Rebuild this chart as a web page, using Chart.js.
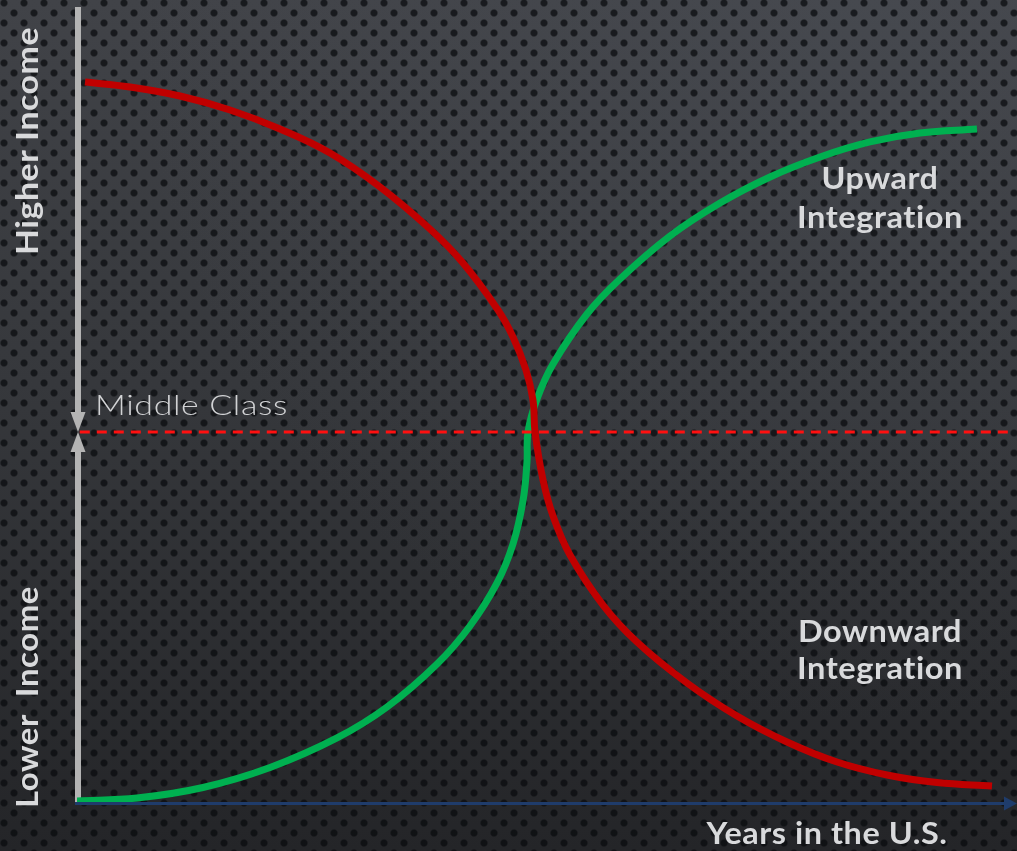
<!DOCTYPE html>
<html>
<head>
<meta charset="utf-8">
<title>Integration</title>
<script src="https://cdn.jsdelivr.net/npm/chart.js@4.4.1/dist/chart.umd.min.js"></script>
<style>
  html, body {
    margin: 0;
    padding: 0;
    width: 1017px;
    height: 851px;
    overflow: hidden;
  }
  body {
    background-color: #2e3034;
    background-image:
      radial-gradient(circle, rgba(8,10,13,0.72) 2.8px, rgba(8,10,13,0) 4.2px),
      radial-gradient(circle, rgba(8,10,13,0.72) 2.8px, rgba(8,10,13,0) 4.2px),
      radial-gradient(ellipse at 85% 0%, rgba(80,84,92,0.35), rgba(80,84,92,0) 60%),
      linear-gradient(to bottom, #414348 0%, #36383c 45%, #242528 100%);
    background-size: 20px 20px, 20px 20px, 100% 100%, 100% 100%;
    background-position: 4px 3px, 14px 13px, 0 0, 0 0;
  }
  #wrap { position: absolute; left: 0; top: 0; width: 1017px; height: 851px; }
</style>
</head>
<body>
<div id="wrap"><canvas id="myChart" width="1017" height="851"></canvas></div>
<script>
// Downward integration (red) : years in the U.S. vs income
const redYears  = [0.86, 5.68, 11.04, 16.40, 21.76, 27.12, 32.48, 37.83, 41.37, 45.12, 46.73, 48.12,
                   48.87, 49.09, 49.95, 51.02, 52.84, 56.38, 60.02, 65.38, 70.74, 76.10, 81.46,
                   86.82, 92.18, 98.07];
const redIncome = [97.27, 96.60, 95.38, 93.49, 90.92, 87.68, 83.09, 77.41, 72.82, 66.47, 62.82, 58.36,
                   54.31, 50.00, 43.50, 38.64, 33.37, 26.61, 21.62, 16.08, 11.62, 8.11, 5.40,
                   3.65, 2.63, 2.16];

// Upward integration (green)
const greenYears  = [0, 6.43, 13.50, 20.69, 27.87, 33.23, 38.59, 42.12, 45.02, 46.73, 47.80, 48.23,
                     48.34, 49.30, 51.02, 54.66, 58.20, 63.56, 68.92, 74.28, 79.64, 84.99, 90.35,
                     96.46];
const greenIncome = [0.14, 0.54, 1.96, 4.66, 8.65, 12.83, 18.64, 23.78, 29.59, 34.86, 40.66, 45.93,
                     50.00, 54.44, 59.17, 65.93, 70.66, 76.47, 80.92, 84.44, 87.14, 89.17, 90.38,
                     90.92];

// Middle class reference line
const middleClassIncome = 50;
const middleClassYears = [0.3, 100];

const toPoints = (xs, ys) => xs.map((v, i) => ({ x: v, y: ys[i] }));

const textColor = '#d9dadc';

// draw text squeezed/stretched to a given width (Century Gothic is not installed)
function fitText(ctx, text, cx, baseline, width, font) {
  ctx.font = font;
  ctx.letterSpacing = '0.5px';
  const w = ctx.measureText(text).width;
  ctx.save();
  ctx.translate(cx, baseline);
  ctx.scale(width / w, 1);
  ctx.textAlign = 'center';
  ctx.textBaseline = 'alphabetic';
  ctx.fillText(text, 0, 0);
  ctx.restore();
}

//Axes with arrows
const axesPlugin = {
  id: 'axesArrows',
  beforeDatasetsDraw(chart) {
    const { ctx, scales: { x, y } } = chart;
    const x0 = x.getPixelForValue(0) + 1;
    const yBase = y.getPixelForValue(0);
    const yTop = y.getPixelForValue(y.max);
    const yMid = y.getPixelForValue(middleClassIncome);
    const right = x.right;

    ctx.save();
    // blue horizontal axis
    ctx.strokeStyle = '#1f3c6b';
    ctx.fillStyle = '#1f3c6b';
    ctx.lineWidth = 3;
    ctx.beginPath();
    ctx.moveTo(x0 - 3, yBase + 1.5);
    ctx.lineTo(right - 10, yBase + 1.5);
    ctx.stroke();
    ctx.beginPath();
    ctx.moveTo(right, yBase + 1.5);
    ctx.lineTo(right - 13, yBase + 1.5 - 7);
    ctx.lineTo(right - 13, yBase + 1.5 + 7);
    ctx.closePath();
    ctx.fill();

    // gray vertical axis, arrows meeting at the middle class
    ctx.strokeStyle = '#b4b4b4';
    ctx.fillStyle = '#b4b4b4';
    ctx.lineWidth = 6;
    ctx.beginPath();
    ctx.moveTo(x0, yTop);
    ctx.lineTo(x0, yMid - 18);
    ctx.moveTo(x0, yMid + 18);
    ctx.lineTo(x0, yBase);
    ctx.stroke();
    ctx.beginPath();
    ctx.moveTo(x0 - 7.5, yMid - 20);
    ctx.lineTo(x0 + 7.5, yMid - 20);
    ctx.lineTo(x0, yMid);
    ctx.closePath();
    ctx.fill();
    ctx.beginPath();
    ctx.moveTo(x0 - 7.5, yMid + 20);
    ctx.lineTo(x0 + 7.5, yMid + 20);
    ctx.lineTo(x0, yMid);
    ctx.closePath();
    ctx.fill();
    ctx.restore();
  },
  afterDraw(chart) {
    const { ctx, scales: { x, y } } = chart;
    const bold = '700 30px Lato, "Open Sans", sans-serif';
    ctx.save();
    ctx.fillStyle = textColor;

    fitText(ctx, 'Upward', 880, 189, 117, bold);
    fitText(ctx, 'Integration', 880, 228, 166, bold);
    fitText(ctx, 'Downward', 880, 642, 164, bold);
    fitText(ctx, 'Integration', 880, 679, 166, bold);
    fitText(ctx, 'Years in the U.S.', 827, 844, 241, bold);

    ctx.fillStyle = '#d2d3d5';
    ctx.font = '300 28px Lato, "Open Sans", sans-serif';
    ctx.letterSpacing = '0.5px';
    const mw = ctx.measureText('Middle Class').width;
    ctx.save();
    ctx.translate(95, y.getPixelForValue(middleClassIncome) - 17);
    ctx.scale(193 / mw, 1);
    ctx.textAlign = 'left';
    ctx.fillText('Middle Class', 0, 0);
    ctx.restore();

    // rotated axis titles
    ctx.fillStyle = textColor;
    ctx.save();
    ctx.translate(38, 141);
    ctx.rotate(-Math.PI / 2);
    fitText(ctx, 'Higher Income', 0, 0, 228, bold);
    ctx.restore();
    ctx.save();
    ctx.translate(38, 697);
    ctx.rotate(-Math.PI / 2);
    fitText(ctx, 'Lower  Income', 0, 0, 222, bold);
    ctx.restore();

    ctx.restore();
  }
};

const data = {
  datasets: [
    {
      label: 'Downward Integration',
      data: toPoints(redYears, redIncome),
      borderColor: '#c00000',
      borderWidth: 7,
      tension: 0.4,
      pointRadius: 0,
      order: 0
    },
    {
      label: 'Middle Class',
      data: middleClassYears.map(v => ({ x: v, y: middleClassIncome })),
      borderColor: '#ff1010',
      borderWidth: 3,
      borderDash: [10, 7],
      pointRadius: 0,
      order: 1
    },
    {
      label: 'Upward Integration',
      data: toPoints(greenYears, greenIncome),
      borderColor: '#00b050',
      borderWidth: 7,
      tension: 0.4,
      pointRadius: 0,
      order: 2
    }
  ]
};

const config = {
  type: 'line',
  data,
  options: {
    responsive: false,
    animation: false,
    devicePixelRatio: 1,
    layout: { padding: { left: 77, right: 0, top: 7, bottom: 49 } },
    plugins: {
      legend: { display: false },
      tooltip: { enabled: false }
    },
    scales: {
      x: { type: 'linear', min: 0, max: 100.75, display: false },
      y: { type: 'linear', min: 0, max: 107.4, display: false }
    }
  },
  plugins: [axesPlugin]
};

new Chart(document.getElementById('myChart').getContext('2d'), config);
</script>
</body>
</html>
